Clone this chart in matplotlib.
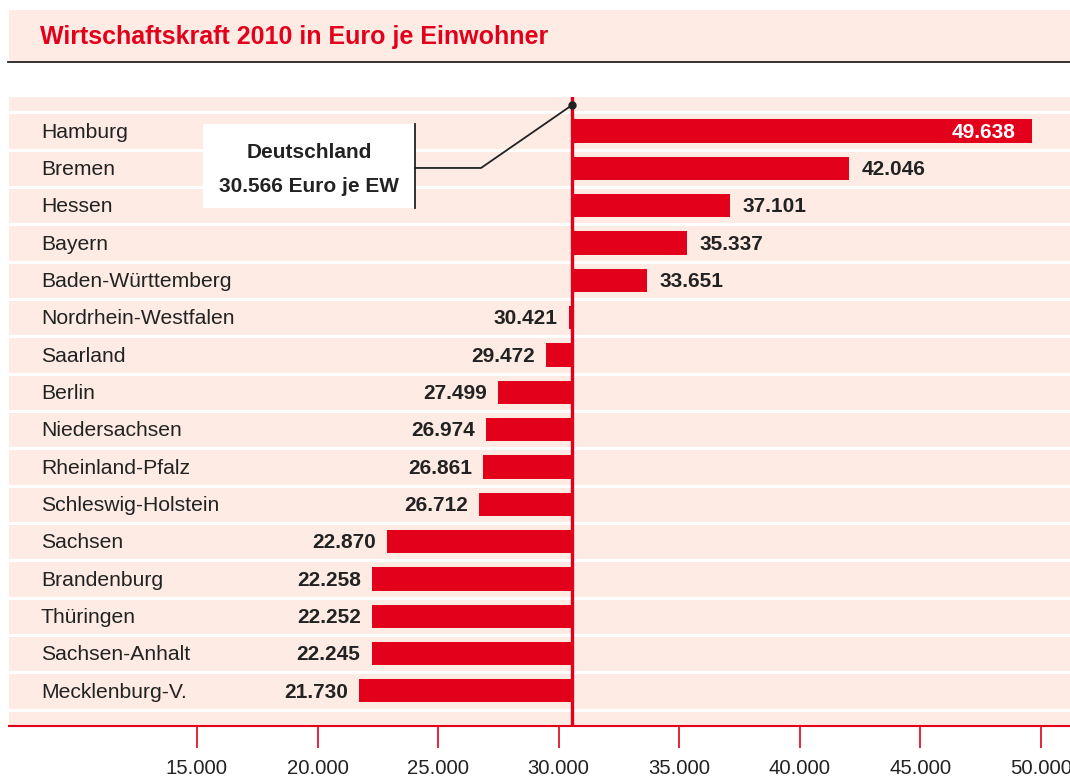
import matplotlib.pyplot as plt
from matplotlib.patches import Rectangle
import numpy as np

plt.rcParams['font.family'] = ['Liberation Sans', 'DejaVu Sans']

# Bruttoinlandsprodukt je Einwohner 2010
laender = ['Hamburg', 'Bremen', 'Hessen', 'Bayern', 'Baden-Württemberg',
           'Nordrhein-Westfalen', 'Saarland', 'Berlin', 'Niedersachsen',
           'Rheinland-Pfalz', 'Schleswig-Holstein', 'Sachsen', 'Brandenburg',
           'Thüringen', 'Sachsen-Anhalt', 'Mecklenburg-V.']
werte = [49638, 42046, 37101, 35337, 33651, 30421, 29472, 27499, 26974,
         26861, 26712, 22870, 22258, 22252, 22245, 21730]
deutschland = 30566
ticks = [15000, 20000, 25000, 30000, 35000, 40000, 45000, 50000]

ROT = '#e2001a'
ROSA = '#fdebe4'
TEXT = '#222222'


def de(v):
    return f'{v:,}'.replace(',', '.')


fig = plt.figure(figsize=(10.7, 7.78), dpi=100)
W, H = 1070, 778

# title band
fig.patches.append(Rectangle((9 / W, 1 - 61 / H), 1 - 9 / W, 51 / H,
                             transform=fig.transFigure, facecolor=ROSA,
                             edgecolor='none', zorder=0))
fig.add_artist(plt.Line2D([8 / W, 1], [1 - 62 / H] * 2, color='#222222',
                          lw=1.3, transform=fig.transFigure))
fig.text(40 / W, 1 - 37 / H, 'Wirtschaftskraft 2010 in Euro je Einwohner',
         color=ROT, fontsize=18, fontweight='bold', va='center', ha='left')

ax = fig.add_axes([9 / W, 52 / H, 1061 / W, 629 / H])
ax.set_facecolor(ROSA)

y = np.arange(len(laender))
ax.barh(y, np.array(werte) - deutschland, left=deutschland, height=0.62,
        color=ROT, zorder=2)

# row separators
for b in np.arange(-1, len(laender)) + 0.5:
    ax.axhline(b, color='white', lw=2.2, zorder=1)

ax.axvline(deutschland, color=ROT, lw=2.4, zorder=3)

trans = ax.get_yaxis_transform()
for i, (name, v) in enumerate(zip(laender, werte)):
    ax.text(0.030, i + 0.03, name, transform=trans, va='center', ha='left',
            fontsize=15.2, color=TEXT)
    if i == 0:
        ax.annotate(de(v), (v, i + 0.03), xytext=(-12, 0),
                    textcoords='offset points', va='center', ha='right',
                    fontsize=15, fontweight='bold', color='white', zorder=4)
    elif v >= deutschland:
        ax.annotate(de(v), (v, i + 0.03), xytext=(9, 0),
                    textcoords='offset points', va='center', ha='left',
                    fontsize=15, fontweight='bold', color=TEXT, zorder=4)
    else:
        ax.annotate(de(v), (v, i + 0.03), xytext=(-8, 0),
                    textcoords='offset points', va='center', ha='right',
                    fontsize=15, fontweight='bold', color=TEXT, zorder=4)

# Deutschland callout
ax.add_patch(Rectangle((15250, -0.19), 8790, 2.25, facecolor='white',
                       edgecolor='none', zorder=5))
ax.plot([24040, 24040], [-0.19, 2.06], color='#222222', lw=1.3, zorder=6)
ax.plot([24040, 26780, deutschland], [0.99, 0.99, -0.70], color='#222222',
        lw=1.3, zorder=6)
ax.plot([deutschland], [-0.70], 'o', color='#222222', ms=5, zorder=7)
ax.text(19645, 0.58, 'Deutschland', ha='center', va='center', fontsize=15,
        fontweight='bold', color=TEXT, zorder=7)
ax.text(19645, 1.49, f'{de(deutschland)} Euro je EW', ha='center',
        va='center', fontsize=15, fontweight='bold', color=TEXT, zorder=7)

ax.set_xlim(7204, 51203)
ax.set_ylim(15.94, -0.911)
ax.set_yticks([])
ax.set_xticks(ticks)
ax.set_xticklabels([de(t) for t in ticks], fontsize=14.6, color=TEXT)
ax.tick_params(axis='x', direction='out', length=16, width=1.2, color=ROT,
               pad=7.5)
for s in ['top', 'left', 'right']:
    ax.spines[s].set_visible(False)
ax.spines['bottom'].set_color(ROT)
ax.spines['bottom'].set_linewidth(1.5)

fig.savefig('out.png', dpi=100)
